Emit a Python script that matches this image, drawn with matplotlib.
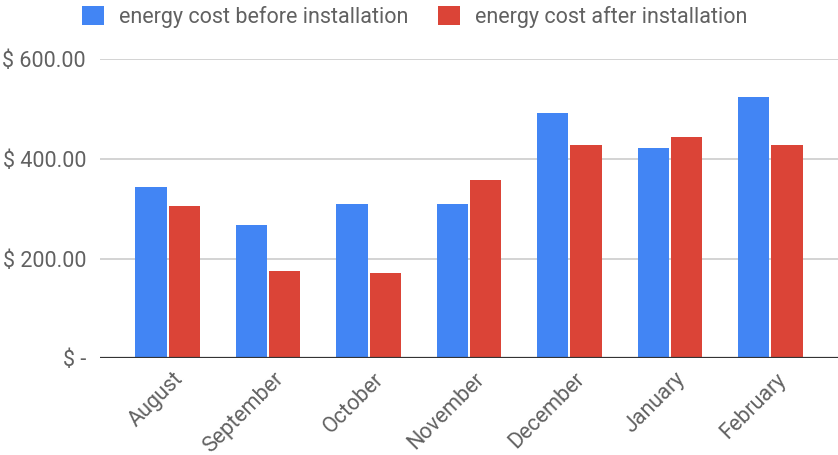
import matplotlib.pyplot as plt
import matplotlib.transforms as mtransforms
import numpy as np
from matplotlib.ticker import FuncFormatter

# ── data ─────────────────────────────────────────────────────────────────── #
months = ["August", "September", "October", "November", "December", "January", "February"]
cost_before = [343, 268, 309, 309, 492, 421, 524]
cost_after = [306, 176, 172, 358, 428, 443, 428]
y_ticks = [0, 200, 400, 600]

BLUE = "#4285F4"
RED = "#DB4437"
TEXT = "#616161"

plt.rcParams["font.family"] = ["Roboto", "DejaVu Sans"]

fig = plt.figure(figsize=(8.38, 4.55), dpi=100)
ax = fig.add_axes([100 / 838, (455 - 358.3) / 455, 738 / 838, 299.3 / 455])

x = np.arange(len(months))
w = 0.31
ax.bar(x - 0.165, cost_before, width=w, color=BLUE, label="energy cost before installation", zorder=3)
ax.bar(x + 0.165, cost_after, width=w, color=RED, label="energy cost after installation", zorder=3)

ax.set_xlim(-0.672, len(months) - 1 + 0.672)
ax.set_ylim(0, 600)

# grid / baseline
ax.set_yticks(y_ticks)
ax.yaxis.grid(True, color="#cccccc", lw=1.2, zorder=0)
ax.axhline(0, color="#333333", lw=1.6, zorder=4)
for s in ax.spines.values():
    s.set_visible(False)

ax.yaxis.set_major_formatter(FuncFormatter(lambda v, p: "$ -" if v == 0 else f"$ {v:,.2f}"))
ax.tick_params(axis="y", length=0, pad=10, labelsize=15.5, labelcolor=TEXT)
ax.tick_params(axis="x", length=0, pad=6, labelsize=15.5, labelcolor=TEXT)

ax.set_xticks(x)
ax.set_xticklabels(months, rotation=45, ha="right", va="top", rotation_mode="anchor")
shift = mtransforms.ScaledTranslation(5 / 100, -2 / 100, fig.dpi_scale_trans)
for lbl in ax.get_xticklabels():
    lbl.set_transform(lbl.get_transform() + shift)

# legend at top
fig.legend(loc="center", bbox_to_anchor=(0.495, 0.963), ncol=2, frameon=False,
           fontsize=15.5, labelcolor=TEXT, handlelength=1.0, handleheight=1.0,
           handletextpad=0.7, columnspacing=1.4)

fig.savefig("out.png", dpi=100)
